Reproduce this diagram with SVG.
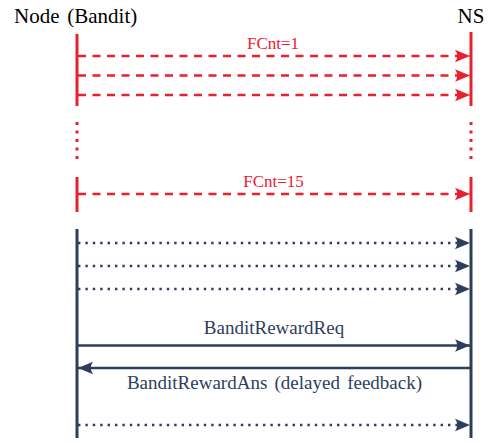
<svg xmlns="http://www.w3.org/2000/svg" width="490" height="443" viewBox="0 0 490 443">
<style>
text{font-family:'Liberation Serif','Times New Roman',serif}
.hdr{font-size:21px;fill:#000}
.rl{stroke:#e8212f;stroke-width:3;fill:none}
.dl{stroke:#2c3e5c;stroke-width:3;fill:none}
.rd{stroke:#e8212f;stroke-width:2.6;fill:none;stroke-dasharray:8 6.5}
.dd{stroke:#2c3e5c;stroke-width:2.6;fill:none;stroke-dasharray:2.4 5}
.ds{stroke:#2c3e5c;stroke-width:2.6;fill:none}
.rt{font-size:17px;fill:#e8212f}
.dt{font-size:19px;fill:#2c3e5c}
</style>
<defs>
<marker id="ar" markerUnits="userSpaceOnUse" markerWidth="18" markerHeight="16" viewBox="-17 -8 18 16" refX="0" refY="0" orient="auto">
<path d="M0,0 L-15,-6.2 Q-10.5,0 -15,6.2 Z" fill="#e8212f"/>
</marker>
<marker id="ad" markerUnits="userSpaceOnUse" markerWidth="18" markerHeight="16" viewBox="-17 -8 18 16" refX="0" refY="0" orient="auto">
<path d="M0,0 L-15,-6.2 Q-10.5,0 -15,6.2 Z" fill="#2c3e5c"/>
</marker>
</defs>
<g id="node-bandit">
<text class="hdr" x="14" y="22.5" word-spacing="2.5">Node (Bandit)</text>
<line class="rl" x1="77" y1="34" x2="77" y2="106"/>
<line class="rl" x1="77" y1="122" x2="77" y2="161" stroke-dasharray="3 5.5"/>
<line class="rl" x1="77" y1="177" x2="77" y2="212"/>
<line class="dl" x1="77" y1="229" x2="77" y2="438"/>
</g>
<g id="ns">
<text class="hdr" x="471" y="23" text-anchor="middle">NS</text>
<line class="rl" x1="471" y1="32" x2="471" y2="106"/>
<line class="rl" x1="471" y1="122" x2="471" y2="161" stroke-dasharray="3 5.5"/>
<line class="rl" x1="471" y1="177" x2="471" y2="212"/>
<line class="dl" x1="471" y1="229" x2="471" y2="438"/>
</g>
<g id="connectors">
<line class="rd" x1="78" y1="56" x2="470" y2="56" marker-end="url(#ar)"/>
<line class="rd" x1="78" y1="75.5" x2="470" y2="75.5" marker-end="url(#ar)"/>
<line class="rd" x1="78" y1="95" x2="470" y2="95" marker-end="url(#ar)"/>
<text class="rt" x="273" y="48.5" text-anchor="middle">FCnt=1</text>
<line class="rd" x1="78" y1="194" x2="470" y2="194" marker-end="url(#ar)"/>
<text class="rt" x="273.5" y="187" text-anchor="middle">FCnt=15</text>
<line class="dd" x1="78" y1="243" x2="470" y2="243" marker-end="url(#ad)"/>
<line class="dd" x1="78" y1="266" x2="470" y2="266" marker-end="url(#ad)"/>
<line class="dd" x1="78" y1="289" x2="470" y2="289" marker-end="url(#ad)"/>
<line class="ds" x1="78" y1="345.5" x2="470" y2="345.5" marker-end="url(#ad)"/>
<text class="dt" x="274" y="334" text-anchor="middle">BanditRewardReq</text>
<line class="ds" x1="470" y1="368" x2="78" y2="368" marker-end="url(#ad)"/>
<text class="dt" x="274.5" y="389" text-anchor="middle" word-spacing="2.5">BanditRewardAns (delayed feedback)</text>
<line class="dd" x1="78" y1="425" x2="470" y2="425" marker-end="url(#ad)"/>
</g>
</svg>
